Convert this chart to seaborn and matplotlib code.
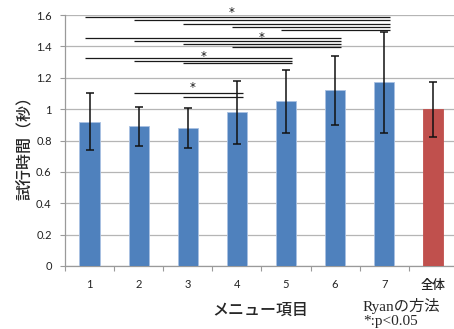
import matplotlib
matplotlib.use("Agg")
import matplotlib.pyplot as plt
import numpy as np
import pandas as pd
import seaborn as sns

# ---- data ----
categories = ["1", "2", "3", "4", "5", "6", "7", "全体"]
mean_time = [0.92, 0.89, 0.88, 0.98, 1.05, 1.12, 1.17, 1.00]
sd_time = [0.18, 0.125, 0.13, 0.20, 0.20, 0.22, 0.32, 0.175]

# significant pairs (Ryan's method), grouped by the right-hand item index
sig_pairs = {
    6: [0, 1, 2, 3, 4],
    5: [0, 1, 2, 3],
    4: [0, 1, 2],
    3: [1, 2],
}

y_ticks = [0, 0.2, 0.4, 0.6, 0.8, 1.0, 1.2, 1.4, 1.6]
y_tick_labels = ["0", "0.2", "0.4", "0.6", "0.8", "1", "1.2", "1.4", "1.6"]

# ---- style ----
sns.set_theme(style="white")
plt.rcParams["font.family"] = ["Lato", "Noto Sans CJK JP", "DejaVu Sans"]

BLUE = "#4f81bd"
RED = "#c0504d"
GRID = "#b5b5b5"
AXIS = "#9a9a9a"

df = pd.DataFrame({"item": categories, "time": mean_time})
palette = [BLUE] * 7 + [RED]

fig = plt.figure(figsize=(4.54, 3.29), dpi=100)
ax = fig.add_axes([65 / 454, 1 - 266 / 329, 1 - 65 / 454, (266 - 15) / 329])

sns.barplot(data=df, x="item", y="time", hue="item", palette=palette,
            saturation=1, legend=False, errorbar=None, width=0.41, ax=ax,
            zorder=3, linewidth=0.6, edgecolor="#a9c1e2")
for p in ax.patches[7:]:
    p.set_edgecolor(RED)

x = np.arange(len(categories))
ax.errorbar(x, mean_time, yerr=sd_time, fmt="none", ecolor="#111111",
            elinewidth=1.1, capsize=3, capthick=1.1, zorder=4)

ax.set_ylim(0, 1.6)
ax.set_xlim(-0.5, -0.5 + (454 - 65) / 49.1)
ax.set_yticks(y_ticks)
ax.set_yticklabels(y_tick_labels)
ax.yaxis.grid(True, color=GRID, linewidth=0.9, zorder=0)
ax.set_axisbelow(True)

for side in ("top", "right"):
    ax.spines[side].set_visible(False)
for side in ("left", "bottom"):
    ax.spines[side].set_color(AXIS)
    ax.spines[side].set_linewidth(0.9)

ax.tick_params(axis="y", which="major", left=True, length=3.6, width=0.8,
               color=AXIS, pad=6, labelsize=8, labelcolor="#222222")
ax.set_xticks(x)
ax.set_xticks(np.arange(-0.5, 7.5, 1.0), minor=True)
ax.tick_params(axis="x", which="major", bottom=True, length=0, pad=9,
               labelsize=8, labelcolor="#222222")
ax.tick_params(axis="x", which="minor", bottom=True, length=3.6, width=0.8,
               color=AXIS)
last = ax.get_xticklabels()[-1]
last.set_fontsize(9)
last.set_fontweight("medium")

ax.set_xlabel("")
ax.set_ylabel("")
fig.text(25 / 454, 1 - 144 / 329, "試行時間（秒）", rotation=90,
         ha="center", va="center", fontsize=11.5, fontweight="medium",
         family=["Noto Sans CJK JP", "DejaVu Sans"])
fig.text(260 / 454, 1 - 310 / 329, "メニュー項目", ha="center", va="center",
         fontsize=11.5, fontweight="medium",
         family=["Noto Sans CJK JP", "DejaVu Sans"])
serif_jp = ["Liberation Serif", "Noto Sans CJK JP"]
fig.text(363 / 454, 1 - 306 / 329, "Ryanの方法", ha="left", va="center",
         fontsize=11, family=serif_jp)
fig.text(363 / 454, 1 - 322 / 329, "*:p<0.05", ha="left", va="center",
         fontsize=11, family=serif_jp)

# significance brackets: one stack of lines per right-hand item
stack_top = {6: 1.585, 5: 1.456, 4: 1.327, 3: 1.100}
stack_step = {6: 0.02, 5: 0.021, 4: 0.018, 3: 0.025}
star_at = {6: (2.89, 1.613), 5: (3.50, 1.458), 4: (2.33, 1.337), 3: (2.09, 1.135)}
for right, lefts in sig_pairs.items():
    for k, left in enumerate(lefts):
        yy = stack_top[right] - k * stack_step[right]
        ax.plot([left - 0.1, right + 0.12], [yy, yy], color="#1a1a1a",
                linewidth=0.9, solid_capstyle="butt", zorder=5, clip_on=False)
    sx, sy = star_at[right]
    ax.text(sx, sy, "*", ha="center", va="center", fontsize=8.5,
            color="#111111", family="DejaVu Sans", zorder=6, clip_on=False)

fig.savefig("out.png", dpi=100)
